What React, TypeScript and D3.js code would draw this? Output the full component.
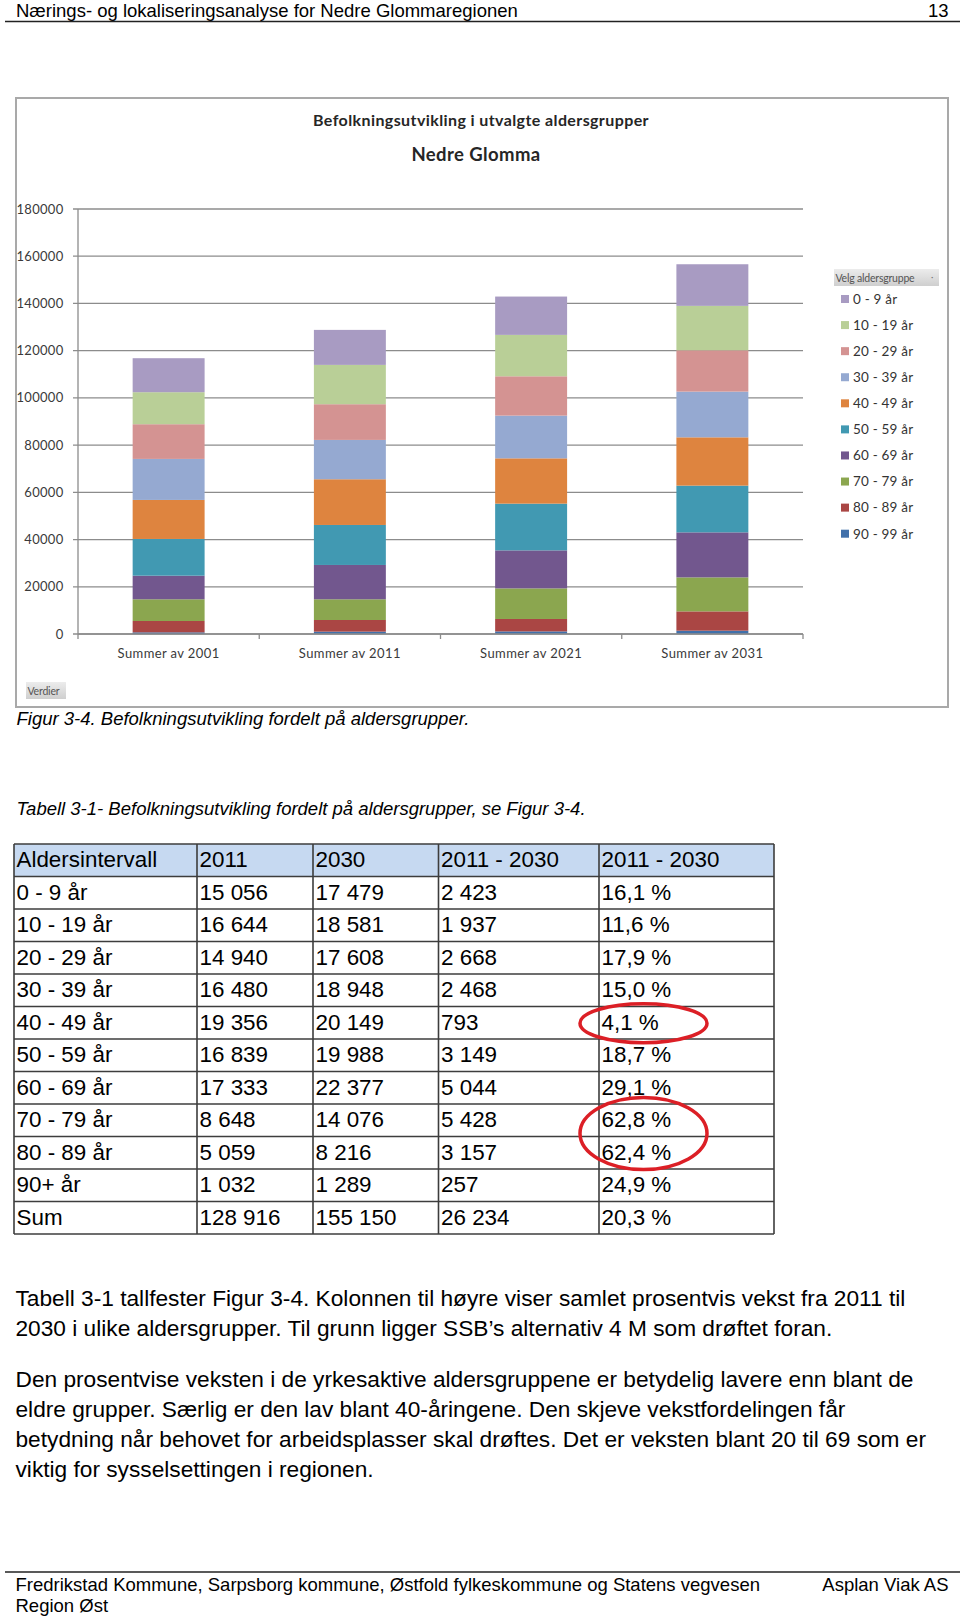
import React from 'react';
import * as d3 from 'd3';

// ---------- Chart data ----------
const categories = ['Summer av 2001', 'Summer av 2011', 'Summer av 2021', 'Summer av 2031'];
const ageGroups = ['0 - 9 år', '10 - 19 år', '20 - 29 år', '30 - 39 år', '40 - 49 år', '50 - 59 år', '60 - 69 år', '70 - 79 år', '80 - 89 år', '90 - 99 år'];
const age0_9 = [14400, 14830, 16240, 17630];
const age10_19 = [13560, 16650, 17530, 18810];
const age20_29 = [14700, 15120, 16660, 17500];
const age30_39 = [17370, 16660, 18090, 19360];
const age40_49 = [16530, 19360, 19190, 20460];
const age50_59 = [15550, 16940, 19790, 19790];
const age60_69 = [10000, 14540, 16100, 19070];
const age70_79 = [9190, 8770, 12960, 14400];
const age80_89 = [4810, 4930, 5260, 8180];
const age90_99 = [700, 1000, 1100, 1400];
const seriesValues = [age0_9, age10_19, age20_29, age30_39, age40_49, age50_59, age60_69, age70_79, age80_89, age90_99];
const seriesColors = ['#a89bc2', '#b9cf97', '#d49392', '#95a9d1', '#de843f', '#4199b2', '#72578e', '#8ba64f', '#aa4644', '#4170aa'];
const yMax = 180000;

// ---------- Table data ----------
const tableHeader = ['Aldersintervall', '2011', '2030', '2011 - 2030', '2011 - 2030'];
const tableLabels = ['0 - 9 år', '10 - 19 år', '20 - 29 år', '30 - 39 år', '40 - 49 år', '50 - 59 år', '60 - 69 år', '70 - 79 år', '80 - 89 år', '90+ år', 'Sum'];
const pop2011 = [15056, 16644, 14940, 16480, 19356, 16839, 17333, 8648, 5059, 1032, 128916];
const pop2030 = [17479, 18581, 17608, 18948, 20149, 19988, 22377, 14076, 8216, 1289, 155150];
const popChange = [2423, 1937, 2668, 2468, 793, 3149, 5044, 5428, 3157, 257, 26234];
const pctChange = [16.1, 11.6, 17.9, 15.0, 4.1, 18.7, 29.1, 62.8, 62.4, 24.9, 20.3];
const circledSingle = [4];
const circledPair = [7, 8];

const FONT = "'Liberation Sans', Arial, Helvetica, sans-serif";
const CFONT = "Lato, 'Open Sans', sans-serif";

const nbLocale = d3.formatLocale({ decimal: ',', thousands: ' ', grouping: [3], currency: ['', ''] });
const fmtInt = nbLocale.format(',d');
const fmtPct = nbLocale.format('.1f');

const bodyLines1 = [
  'Tabell 3-1 tallfester Figur 3-4. Kolonnen til høyre viser samlet prosentvis vekst fra 2011 til',
  '2030 i ulike aldersgrupper. Til grunn ligger SSB’s alternativ 4 M som drøftet foran.',
];
const bodyLines2 = [
  'Den prosentvise veksten i de yrkesaktive aldersgruppene er betydelig lavere enn blant de',
  'eldre grupper. Særlig er den lav blant 40-åringene. Den skjeve vekstfordelingen får',
  'betydning når behovet for arbeidsplasser skal drøftes. Det er veksten blant 20 til 69 som er',
  'viktig for sysselsettingen i regionen.',
];

function Chart() {
  const plotLeft = 78, plotRight = 803, plotTop = 209, plotBottom = 634;
  const x = d3.scaleBand<string>().domain(categories).range([plotLeft, plotRight]).padding(0);
  const y = d3.scaleLinear().domain([0, yMax]).range([plotBottom, plotTop]);
  const barW = x.bandwidth() * 0.397;
  const rows = categories.map((c, i) => {
    const r: any = { cat: c };
    ageGroups.forEach((g, k) => { r[g] = seriesValues[k][i]; });
    return r;
  });
  const keysBottomUp = ageGroups.slice().reverse();
  const stacked = d3.stack<any>().keys(keysBottomUp)(rows);
  const ticks = y.ticks(10);
  const colorOf = (g: string) => seriesColors[ageGroups.indexOf(g)];
  const legendY = d3.scalePoint<string>().domain(ageGroups).range([299, 533.7]);

  return (
    <g>
      <defs>
        <linearGradient id="btn" x1="0" y1="0" x2="0" y2="1">
          <stop offset="0" stopColor="#ececec" />
          <stop offset="1" stopColor="#cfcfcf" />
        </linearGradient>
      </defs>
      <rect x={16} y={98} width={932} height={609} fill="#fff" stroke="#a9a9a9" strokeWidth={2} />
      <text x={481} y={126} textAnchor="middle" fontFamily={CFONT} fontWeight="bold" fontSize={16} letterSpacing={0.4} fill="#262626">
        Befolkningsutvikling i utvalgte aldersgrupper
      </text>
      <text x={476} y={161} textAnchor="middle" fontFamily={CFONT} fontWeight="bold" fontSize={18.5} letterSpacing={0.4} fill="#262626">
        Nedre Glomma
      </text>
      {ticks.map((t) => (
        <g key={t}>
          <line x1={plotLeft - 5} x2={plotRight} y1={y(t)} y2={y(t)} stroke="#8c8c8c" strokeWidth={1.3} />
          <text x={63.5} y={y(t)} dy="0.35em" textAnchor="end" fontFamily={CFONT} fontSize={13} fill="#3a3a3a" letterSpacing={0.3}>
            {d3.format('d')(t)}
          </text>
        </g>
      ))}
      <line x1={plotLeft} x2={plotLeft} y1={plotTop} y2={plotBottom} stroke="#8c8c8c" strokeWidth={1.3} />
      {stacked.map((s) => (
        <g key={s.key} fill={colorOf(s.key)}>
          {s.map((d, i) => (
            <rect key={i} x={(x(d.data.cat) as number) + (x.bandwidth() - barW) / 2} width={barW} y={y(d[1])} height={y(d[0]) - y(d[1])} />
          ))}
        </g>
      ))}
      <line x1={plotLeft} x2={plotRight} y1={plotBottom} y2={plotBottom} stroke="#8c8c8c" strokeWidth={1.3} />
      {categories.map((c) => (
        <line key={c} x1={x(c) as number} x2={x(c) as number} y1={plotBottom} y2={plotBottom + 5} stroke="#8c8c8c" strokeWidth={1.3} />
      ))}
      <line x1={plotRight} x2={plotRight} y1={plotBottom} y2={plotBottom + 5} stroke="#8c8c8c" strokeWidth={1.3} />
      {categories.map((c) => (
        <text key={c} x={(x(c) as number) + x.bandwidth() / 2} y={658} textAnchor="middle" fontFamily={CFONT} fontSize={13} fill="#3a3a3a" letterSpacing={0.4}>
          {c}
        </text>
      ))}
      {/* legend */}
      <rect x={834} y={269} width={105} height={17} fill="url(#btn)" />
      <text x={835.5} y={281.5} fontFamily={CFONT} fontSize={10.5} fill="#555" letterSpacing={-0.2}>Velg aldersgruppe</text>
      <text x={931} y={280} fontFamily={CFONT} fontSize={9} fill="#777">·</text>
      {ageGroups.map((g) => (
        <g key={g}>
          <rect x={841} y={(legendY(g) as number) - 4} width={8} height={8} fill={colorOf(g)} />
          <text x={853} y={legendY(g) as number} dy="0.36em" fontFamily={CFONT} fontSize={13.5} fill="#333" letterSpacing={0.2}>{g}</text>
        </g>
      ))}
      <rect x={26} y={682} width={40} height={17} fill="url(#btn)" />
      <text x={27.5} y={694.5} fontFamily={CFONT} fontSize={10.5} fill="#555" letterSpacing={-0.2}>Verdier</text>
    </g>
  );
}

function Table() {
  const colX = [14, 197, 313, 438.5, 599, 774];
  const top = 844;
  const rowH = 32.5;
  const nRows = tableLabels.length + 1;
  const ry = d3.scaleLinear().domain([0, nRows]).range([top, top + nRows * rowH]);
  const cells = tableLabels.map((l, i) => [l, fmtInt(pop2011[i]), fmtInt(pop2030[i]), fmtInt(popChange[i]), fmtPct(pctChange[i]) + ' %']);
  const stroke = '#3d3d3d';
  const pctCx = colX[4] + 44.5;
  return (
    <g fontFamily={FONT} fontSize={22.4} fill="#000">
      <rect x={colX[0]} y={ry(0)} width={colX[5] - colX[0]} height={rowH} fill="#c6d9f1" />
      {tableHeader.map((h, j) => (
        <text key={j} x={colX[j] + 2.5} y={ry(0) + 23}>{h}</text>
      ))}
      {cells.map((row, i) => row.map((c, j) => (
        <text key={i + '-' + j} x={colX[j] + 2.5} y={ry(i + 1) + 23}>{c}</text>
      )))}
      {d3.range(nRows + 1).map((r) => (
        <line key={'h' + r} x1={colX[0]} x2={colX[5]} y1={ry(r)} y2={ry(r)} stroke={stroke} strokeWidth={1.6} />
      ))}
      {colX.map((cx, j) => (
        <line key={'v' + j} x1={cx} x2={cx} y1={ry(0)} y2={ry(nRows)} stroke={stroke} strokeWidth={1.6} />
      ))}
      {circledSingle.map((i) => (
        <ellipse key={'e' + i} cx={pctCx} cy={ry(i + 1) + rowH / 2 + 0.5} rx={63.5} ry={19.5} fill="none" stroke="#dc1f26" strokeWidth={3.5} />
      ))}
      <ellipse cx={pctCx} cy={(ry(circledPair[0] + 1) + ry(circledPair[1] + 2)) / 2 - 3} rx={63.5} ry={36} fill="none" stroke="#dc1f26" strokeWidth={3.5} />
    </g>
  );
}

export default function App() {
  return (
    <svg width={960} height={1616} viewBox="0 0 960 1616" style={{ position: 'absolute', left: 0, top: 0, background: '#fff' }}>
      <rect x={0} y={0} width={960} height={1616} fill="#fff" />
      {/* page header */}
      <text x={16} y={17} fontFamily={FONT} fontSize={18.5} fill="#000">Nærings- og lokaliseringsanalyse for Nedre Glommaregionen</text>
      <text x={948.5} y={17} textAnchor="end" fontFamily={FONT} fontSize={18.5} fill="#000">13</text>
      <line x1={5} x2={960} y1={21.5} y2={21.5} stroke="#222" strokeWidth={1.6} />

      <Chart />

      <text x={16.5} y={725} fontFamily={FONT} fontStyle="italic" fontSize={18.5} fill="#000">Figur 3-4. Befolkningsutvikling fordelt på aldersgrupper.</text>
      <text x={16.5} y={814.5} fontFamily={FONT} fontStyle="italic" fontSize={18.5} fill="#000">Tabell 3-1- Befolkningsutvikling fordelt på aldersgrupper, se Figur 3-4.</text>

      <Table />

      <g fontFamily={FONT} fontSize={22.7} fill="#000">
        {bodyLines1.map((l, i) => (
          <text key={'a' + i} x={15.5} y={1306 + i * 30}>{l}</text>
        ))}
        {bodyLines2.map((l, i) => (
          <text key={'b' + i} x={15.5} y={1386.5 + i * 30}>{l}</text>
        ))}
      </g>

      {/* page footer */}
      <line x1={5} x2={960} y1={1572} y2={1572} stroke="#222" strokeWidth={1.6} />
      <g fontFamily={FONT} fontSize={18.5} fill="#000">
        <text x={15.5} y={1590.5}>Fredrikstad Kommune, Sarpsborg kommune, Østfold fylkeskommune og Statens vegvesen</text>
        <text x={948.5} y={1590.5} textAnchor="end">Asplan Viak AS</text>
        <text x={15.5} y={1611.5}>Region Øst</text>
      </g>
    </svg>
  );
}
